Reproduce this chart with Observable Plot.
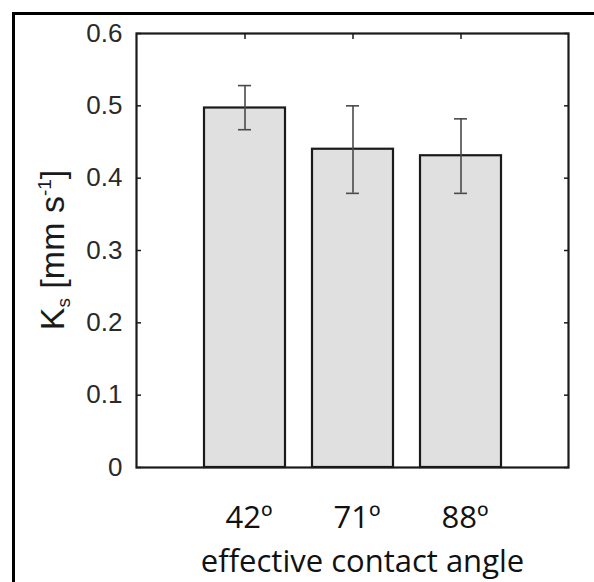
<!DOCTYPE html>
<html><head><meta charset="utf-8">
<script src="https://cdn.jsdelivr.net/npm/d3@7"></script>
<script src="https://cdn.jsdelivr.net/npm/@observablehq/plot@0.6"></script>
<style>
body{margin:0;background:#fff;}
#wrap{position:relative;width:594px;height:582px;overflow:hidden;background:#fff;}
#border{position:absolute;left:12px;top:12px;width:800px;height:800px;border-left:3px solid #000;border-top:3px solid #000;pointer-events:none;}
#wrap svg{position:absolute;left:0;top:0;}
</style></head><body><div id="wrap"><div id="border"></div></div>
<script>
const categories = ["42º", "71º", "88º"];
const values = [0.497, 0.440, 0.431];
const errLow = [0.467, 0.379, 0.379];
const errHigh = [0.528, 0.500, 0.482];
const yTicks = [0, 0.1, 0.2, 0.3, 0.4, 0.5, 0.6];
const xLabel = "effective contact angle";
const yLabelMain = "K";
const yLabelSub = "s";
const yLabelUnit = " [mm s";
const yLabelSup = "-1";
const yLabelEnd = "]";

const data = categories.map((c, i) => ({cat: c, val: values[i], lo: errLow[i], hi: errHigh[i]}));

const plot = Plot.plot({
  width: 594, height: 582,
  marginLeft: 136, marginRight: 26, marginTop: 33, marginBottom: 115,
  style: {fontFamily: "'Liberation Sans', Arial, sans-serif", background: "transparent", overflow: "visible"},
  x: {type: "band", domain: categories, paddingInner: 0.25, paddingOuter: 0.625},
  y: {domain: [0, 0.6]},
  marks: [
    Plot.barY(data, {x: "cat", y: "val", fill: "#e0e0e0", stroke: "#1a1a1a", strokeWidth: 2.2}),
    Plot.ruleX(data, {x: "cat", y1: "lo", y2: "hi", stroke: "#4a4a4a", strokeWidth: 1.6}),
    Plot.tickY(data, {x: "cat", y: "lo", stroke: "#4a4a4a", strokeWidth: 1.6, insetLeft: 34, insetRight: 34}),
    Plot.tickY(data, {x: "cat", y: "hi", stroke: "#4a4a4a", strokeWidth: 1.6, insetLeft: 34, insetRight: 34}),
    Plot.frame({stroke: "#1a1a1a", strokeWidth: 2.2}),
    Plot.axisY(yTicks, {anchor: "left", tickSize: -5, tickPadding: 19, fontSize: 26, fill: "#2a2a2a", stroke: "#1a1a1a", strokeWidth: 1.5, label: null, tickFormat: d => String(d)}),
    Plot.axisY(yTicks, {anchor: "right", tickSize: -5, fill: "none", stroke: "#1a1a1a", strokeWidth: 1.5, label: null}),
    Plot.axisX({anchor: "top", tickSize: -5, fill: "none", stroke: "#1a1a1a", strokeWidth: 1.5, label: null}),
    Plot.axisX({anchor: "bottom", tickSize: 0, tickPadding: 38, fontSize: 31, fontFamily: "'Open Sans', sans-serif", fill: "#111", dx: 4, label: null}),
    Plot.text([xLabel], {frameAnchor: "bottom", dy: 104, lineAnchor: "bottom", fontSize: 31, fontFamily: "'Open Sans', sans-serif", fill: "#111", dx: 10})
  ]
});

const svg = d3.select(plot);
const t = svg.append("text")
  .attr("transform", "translate(64,250) rotate(-90)")
  .attr("text-anchor", "middle")
  .attr("font-family", "'Liberation Sans', Arial, sans-serif")
  .attr("font-size", 34)
  .attr("fill", "#1a1a1a");
t.append("tspan").text(yLabelMain);
t.append("tspan").attr("font-size", 19).attr("dy", 6).text(yLabelSub);
t.append("tspan").attr("dy", -6).text(yLabelUnit);
t.append("tspan").attr("font-size", 19).attr("dy", -13).text(yLabelSup);
t.append("tspan").attr("dy", 13).text(yLabelEnd);

document.getElementById("wrap").appendChild(plot);
</script>
</body></html>
